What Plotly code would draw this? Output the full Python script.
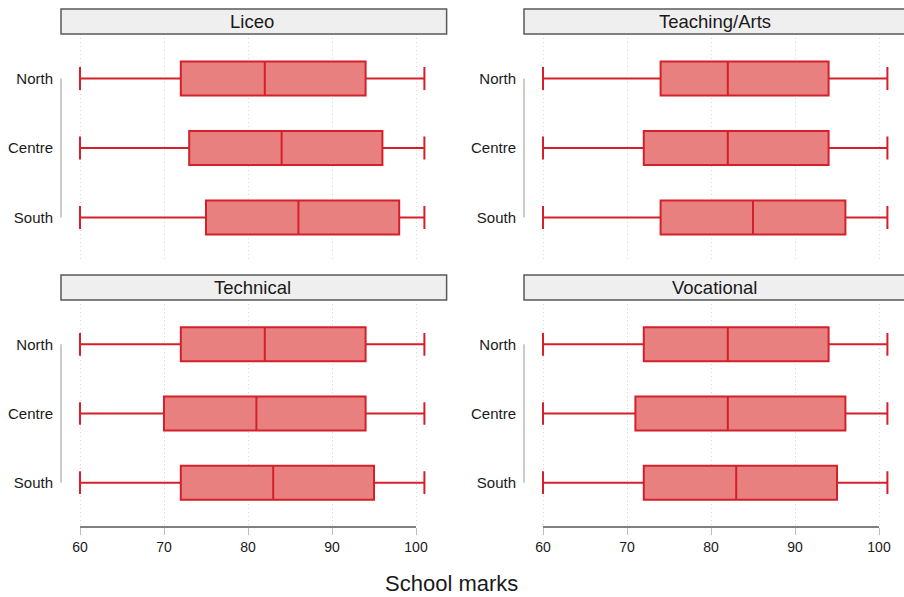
import plotly.graph_objects as go

# School marks by programme and region (box summaries)
programmes = ["Liceo", "Teaching/Arts", "Technical", "Vocational"]
regions = ["North", "Centre", "South"]

q1_marks = [[72, 73, 75], [74, 72, 74], [72, 70, 72], [72, 71, 72]]
median_marks = [[82, 84, 86], [82, 82, 85], [82, 81, 83], [82, 82, 83]]
q3_marks = [[94, 96, 98], [94, 94, 96], [94, 94, 95], [94, 96, 95]]
lower_whisker = [[60, 60, 60], [60, 60, 60], [60, 60, 60], [60, 60, 60]]
upper_whisker = [[101, 101, 101], [101, 101, 101], [101, 101, 101], [101, 101, 101]]

x_ticks = [60, 70, 80, 90, 100]

W, H = 904, 597
FONT = "Liberation Sans, Arial, Helvetica, sans-serif"
LINE_RED = "#d4202a"
FILL_RED = "#e98080"

# panel geometry in pixels: (left, right) columns and (strip top, plot top, plot bottom) rows
cols_px = [(61, 443), (524, 904)]
rows_px = [(9, 34, 262), (275, 300, 527)]
px_per_unit = 8.4
x_lo = 60 - 19 / px_per_unit


def px_x(v):
    return v / W


def px_y(v):
    return 1 - v / H


fig = go.Figure()
layout = dict(
    width=W, height=H,
    margin=dict(l=0, r=0, t=0, b=0),
    paper_bgcolor="white", plot_bgcolor="white",
    showlegend=False,
    font=dict(family=FONT, size=15, color="#1a1a1a"),
)
shapes = []
annotations = []

for i, name in enumerate(programmes):
    r, c = divmod(i, 2)
    n = i + 1
    sfx = "" if n == 1 else str(n)
    left, right = cols_px[c]
    strip_top, plot_top, plot_bot = rows_px[r]
    x_hi = x_lo + (right - left) / px_per_unit

    fig.add_trace(go.Box(
        y=regions,
        q1=q1_marks[i], median=median_marks[i], q3=q3_marks[i],
        lowerfence=lower_whisker[i], upperfence=upper_whisker[i],
        orientation="h",
        width=0.49,
        whiskerwidth=0.67,
        boxpoints=False,
        fillcolor=FILL_RED,
        line=dict(color=LINE_RED, width=2),
        xaxis="x" + sfx, yaxis="y" + sfx,
        hoverinfo="skip",
    ))

    bottom = r == 1
    layout["xaxis" + sfx] = dict(
        domain=[px_x(left), min(1.0, px_x(right))],
        anchor="y" + sfx,
        range=[x_lo, x_hi],
        tickvals=x_ticks,
        showticklabels=bottom,
        ticks="outside" if bottom else "",
        ticklen=7, tickcolor="#bdbdbd", tickwidth=1,
        showgrid=True, gridcolor="#d6d6d6", griddash="1px,3px", gridwidth=1,
        showline=False, zeroline=False,
        tickfont=dict(size=14, color="#1a1a1a"),
    )
    layout["yaxis" + sfx] = dict(
        domain=[px_y(plot_bot), px_y(plot_top)],
        anchor="x" + sfx,
        type="category",
        categoryorder="array", categoryarray=regions,
        range=[len(regions) - 1 + 0.64, -0.64],
        showgrid=False, showline=False, zeroline=False,
        ticks="", ticklabelstandoff=7,
        tickfont=dict(size=15, color="#1a1a1a"),
    )

    # facet strip
    shapes.append(dict(
        type="rect", xref="paper", yref="paper",
        x0=px_x(left), x1=px_x(right) + 0.004,
        y0=px_y(plot_top), y1=px_y(strip_top),
        fillcolor="#efefef", line=dict(color="#5a5a5a", width=1.5),
        layer="above",
    ))
    strip_centre = (left + right) / 2 if c == 0 else (left + 905) / 2
    annotations.append(dict(
        text=name, xref="paper", yref="paper",
        x=px_x(strip_centre),
        y=px_y((strip_top + plot_top) / 2),
        xanchor="center", yanchor="middle", showarrow=False,
        font=dict(size=18.5, color="#1a1a1a", family=FONT),
    ))

    # capped y axis line spanning the first to last region
    shapes.append(dict(
        type="line", xref="x" + sfx + " domain", yref="y" + sfx,
        x0=0, x1=0, y0=0, y1=len(regions) - 1,
        line=dict(color="#a8a8a8", width=1.2),
    ))
    # capped x axis line on the bottom row
    if bottom:
        shapes.append(dict(
            type="line", xref="x" + sfx, yref="y" + sfx + " domain",
            x0=x_ticks[0], x1=x_ticks[-1], y0=0, y1=0,
            line=dict(color="#555555", width=1.3),
        ))

annotations.append(dict(
    text="School marks", xref="paper", yref="paper",
    x=px_x(451), y=px_y(583), xanchor="center", yanchor="middle",
    showarrow=False, font=dict(size=22, color="#1a1a1a", family=FONT),
))

layout["shapes"] = shapes
layout["annotations"] = annotations
fig.update_layout(**layout)

fig.write_html("out.html")
